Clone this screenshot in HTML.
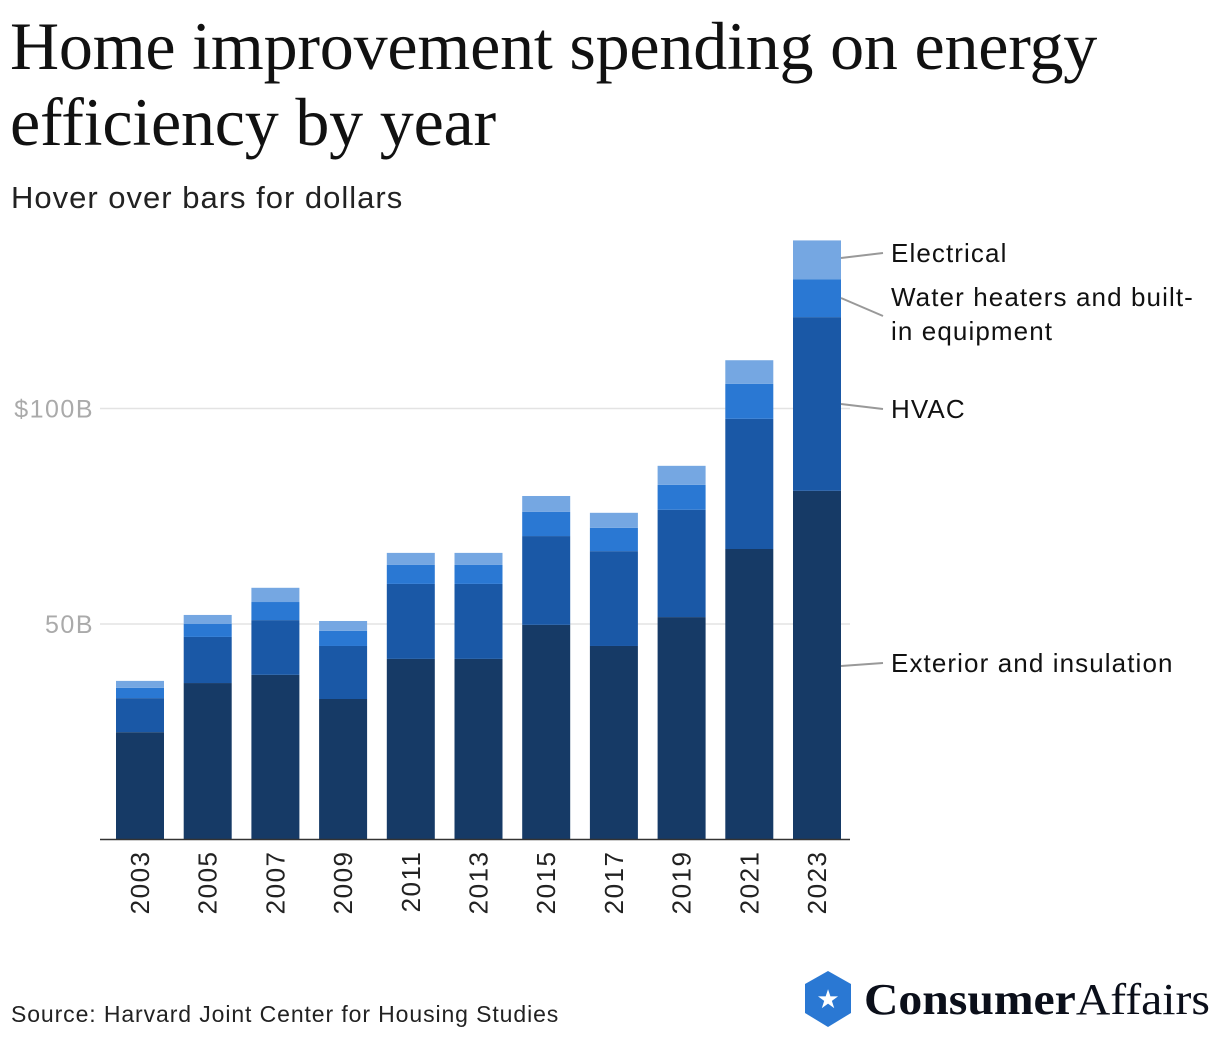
<!DOCTYPE html>
<html><head><meta charset="utf-8"><style>
body{margin:0;width:1220px;height:1042px;background:#fff;overflow:hidden;font-family:"Liberation Sans",sans-serif;}
#title{position:absolute;left:10px;top:8px;margin:0;font-family:"Liberation Serif",serif;font-weight:normal;font-size:68px;line-height:76px;letter-spacing:-0.2px;color:#111;white-space:nowrap;}
#sub{position:absolute;left:11px;top:180px;font-size:31px;letter-spacing:1px;color:#222;}
#src{position:absolute;left:11px;top:1001px;font-size:23px;letter-spacing:0.9px;color:#222;}
svg{position:absolute;left:0;top:0;}
</style></head><body>
<h1 id="title">Home improvement spending on energy<br>efficiency by year</h1>
<div id="sub">Hover over bars for dollars</div>
<div id="src">Source: Harvard Joint Center for Housing Studies</div>
<svg id="chart" width="1220" height="1042"></svg>
<script>
const years=["2003","2005","2007","2009","2011","2013","2015","2017","2019","2021","2023"];
const exterior=[24.9,36.3,38.2,32.6,41.9,41.9,49.8,44.9,51.6,67.4,80.9];
const hvac=[7.9,10.7,12.7,12.3,17.4,17.4,20.6,22.0,24.9,30.2,40.3];
const water=[2.4,3.0,4.2,3.5,4.4,4.4,5.6,5.4,5.8,8.1,8.8];
const electrical=[1.6,2.1,3.3,2.3,2.8,2.8,3.7,3.5,4.4,5.5,9.0];
const tickValues=[50,100];
const tickLabels=["50B","$100B"];
const svg=document.getElementById('chart');const NS="http://www.w3.org/2000/svg";
const y0=839.5,pxPer=4.31;const y=v=>y0-v*pxPer;
const x=i=>116+i*67.7;const bw=48;
function mk(t,a){const e=document.createElementNS(NS,t);for(const k in a)e.setAttribute(k,a[k]);svg.appendChild(e);return e;}
tickValues.forEach((v,i)=>{
 const g=mk('line',{x1:100,x2:850,y1:y(v),y2:y(v),stroke:'#e3e3e3','stroke-width':1.5});
 
 
 const t=mk('text',{x:94,y:y(v)+9,'text-anchor':'end','font-size':25,'letter-spacing':1.5,fill:'#aaa','font-family':'Liberation Sans'});t.textContent=tickLabels[i];
 
 
});
const series=[exterior,hvac,water,electrical];const colors=['#163a66','#1a58a6','#2a78d3','#75a7e2'];
years.forEach((yr,i)=>{let acc=0;
 series.forEach((s,j)=>{const r=mk('rect',{x:x(i),y:y(acc+s[i]),width:bw,height:s[i]*pxPer,fill:colors[j]});
  
  
  acc+=s[i];});
 const t=mk('text',{transform:`translate(${x(i)+bw/2+9},${y0+11}) rotate(-90)`,'text-anchor':'end','font-size':26,'letter-spacing':1.5,fill:'#222','font-family':'Liberation Sans'});t.textContent=yr;
 
 
});
const ax=mk('line',{x1:100,x2:850,y1:y0,y2:y0,stroke:'#333','stroke-width':1.5});


const last=years.length-1;
const labelPos=[[663,["Exterior and insulation"]],[409,["HVAC"]],[297,["Water heaters and built-","in equipment"]],[253,["Electrical"]]];
const lineFrom=[666,404,298,258];
const lineTo=[663,409,316,253];
labelPos.forEach((lp,j)=>{
 const l=mk('line',{x1:x(last)+bw,y1:lineFrom[j],x2:883,y2:lineTo[j],stroke:'#999','stroke-width':2});
 
 
 lp[1].forEach((ln,k)=>{const t=mk('text',{x:891,y:lp[0]+9+k*34,'font-size':26,'letter-spacing':1.1,fill:'#111','font-family':'Liberation Sans'});t.textContent=ln;
  
  });
});
const hex=mk('polygon',{points:'828,971 851,984 851,1013 828,1027 805,1013 805,984',fill:'#2a78d3'});


const st=mk('text',{x:828,y:1008,'text-anchor':'middle','font-size':26,fill:'#fff'});st.textContent='★';


const lg=mk('text',{x:864,y:1014,'font-size':44,fill:'#0b0f1a','font-family':'Liberation Serif','textLength':346,'lengthAdjust':'spacingAndGlyphs'});


const a=document.createElementNS(NS,'tspan');a.setAttribute('font-weight','bold');a.textContent='Consumer';lg.appendChild(a);
const b=document.createElementNS(NS,'tspan');b.textContent='Affairs';lg.appendChild(b);
</script>
</body></html>
